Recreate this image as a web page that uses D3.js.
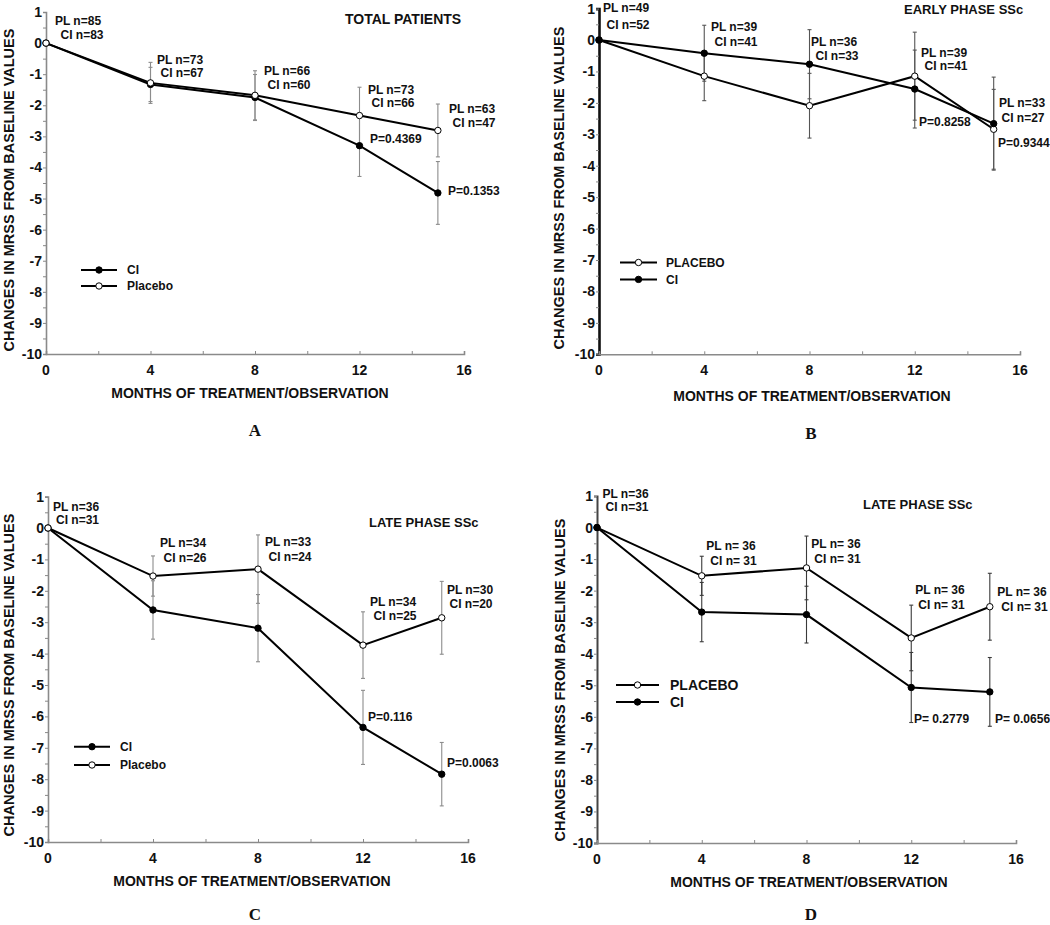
<!DOCTYPE html>
<html>
<head>
<meta charset="utf-8">
<script src="https://cdn.jsdelivr.net/npm/d3@7/dist/d3.min.js"></script>
<style>
  html, body { margin: 0; padding: 0; background: #fff; }
  svg { display: block; }
  text { font-family: "Liberation Sans", Arial, sans-serif; font-weight: bold; fill: #111; }
</style>
</head>
<body>
<svg id="chart" width="1050" height="925"></svg>
<script>
// ---------------- DATA ----------------
const months = [0, 4, 8, 12, 15];
const xTicks = [0, 4, 8, 12, 16];
const yTicks = [1, 0, -1, -2, -3, -4, -5, -6, -7, -8, -9, -10];

// Panel A – total patients
const aPlacebo    = [0, -1.28, -1.68, -2.33, -2.81];
const aPlaceboErr = [0, 0.66, 0.79, 0.91, 0.85];
const aCI         = [0, -1.33, -1.75, -3.30, -4.82];
const aCIErr      = [0, 0.55, 0.74, 0.99, 1.01];

// Panel B – early phase SSc
const bPlacebo    = [0, -1.15, -2.09, -1.15, -2.84];
const bPlaceboErr = [0, 0.78, 1.03, 1.40, 1.27];
const bCI         = [0, -0.42, -0.77, -1.56, -2.66];
const bCIErr      = [0, 0.89, 1.10, 1.24, 1.48];

// Panel C – late phase SSc
const cPlacebo    = [0, -1.53, -1.31, -3.73, -2.86];
const cPlaceboErr = [0, 0.64, 1.09, 1.06, 1.16];
const cCI         = [0, -2.61, -3.19, -6.35, -7.84];
const cCIErr      = [0, 0.93, 1.07, 1.18, 1.01];

// Panel D – late phase SSc (n constant)
const dPlacebo    = [0, -1.53, -1.28, -3.50, -2.51];
const dPlaceboErr = [0, 0.62, 1.01, 1.04, 1.06];
const dCI         = [0, -2.68, -2.76, -5.07, -5.21];
const dCIErr      = [0, 0.94, 0.90, 1.11, 1.09];

// Text
const yTitle = "CHANGES IN MRSS FROM BASELINE VALUES";
const xTitle = "MONTHS OF TREATMENT/OBSERVATION";
const aNLabels = [["PL n=85", "CI n=83"], ["PL n=73", "CI n=67"], ["PL n=66", "CI n=60"], ["PL n=73", "CI n=66"], ["PL n=63", "CI n=47"]];
const bNLabels = [["PL n=49", "CI n=52"], ["PL n=39", "CI n=41"], ["PL n=36", "CI n=33"], ["PL n=39", "CI n=41"], ["PL n=33", "CI n=27"]];
const cNLabels = [["PL n=36", "CI n=31"], ["PL n=34", "CI n=26"], ["PL n=33", "CI n=24"], ["PL n=34", "CI n=25"], ["PL n=30", "CI n=20"]];
const dNLabels = [["PL n=36", "CI n=31"], ["PL n= 36", "CI n= 31"], ["PL n= 36", "CI n= 31"], ["PL n= 36", "CI n= 31"], ["PL n= 36", "CI n= 31"]];
const aPLabels = ["P=0.4369", "P=0.1353"];
const bPLabels = ["P=0.8258", "P=0.9344"];
const cPLabels = ["P=0.116", "P=0.0063"];
const dPLabels = ["P= 0.2779", "P= 0.0656"];

// ---------------- LAYOUT ----------------
const panels = [
  {
    letter: "A", title: "TOTAL PATIENTS",
    left: 46, right: 464, top: 12, bottom: 354,
    yAxisColor: "#8a8a8a", yAxisWidth: 1.6, errColor: "#8c8c8c",
    series: [
      { name: "CI", values: aCI, err: aCIErr, filled: true },
      { name: "Placebo", values: aPlacebo, err: aPlaceboErr, filled: false }
    ],
    nLabels: aNLabels,
    nPos: [[78, 25, 82, 39], [180, 64, 182, 77], [287, 75, 289, 89], [391, 94, 393, 107], [472, 113, 474, 127]],
    pLabels: aPLabels, pPos: [[370, 143], [448, 195]],
    titlePos: [345, 24, 14],
    legend: { x1: 81, x2: 117, ys: [270, 286], tx: 127, size: 12 },
    yTitlePos: [14, 190], xTitlePos: [250, 398], letterPos: [255, 436]
  },
  {
    letter: "B", title: "EARLY PHASE SSc",
    left: 599, right: 1020, top: 8.6, bottom: 354.3,
    yAxisColor: "#111", yAxisWidth: 2.6, errColor: "#555",
    series: [
      { name: "PLACEBO", values: bPlacebo, err: bPlaceboErr, filled: false },
      { name: "CI", values: bCI, err: bCIErr, filled: true }
    ],
    nLabels: bNLabels,
    nPos: [[626, 11.5, 628, 29], [734, 31, 736, 46], [834, 46, 837, 60], [944, 56.5, 946, 70], [1022, 107, 1023, 122]],
    pLabels: bPLabels, pPos: [[919, 126], [998, 147]],
    titlePos: [904, 14, 13],
    legend: { x1: 620, x2: 657, ys: [262.5, 279.4], tx: 666, size: 12 },
    yTitlePos: [564, 188], xTitlePos: [812, 401], letterPos: [811, 439]
  },
  {
    letter: "C", title: "LATE PHASE SSc",
    left: 48, right: 468, top: 496.6, bottom: 842,
    yAxisColor: "#8a8a8a", yAxisWidth: 1.6, errColor: "#8c8c8c",
    series: [
      { name: "CI", values: cCI, err: cCIErr, filled: true },
      { name: "Placebo", values: cPlacebo, err: cPlaceboErr, filled: false }
    ],
    nLabels: cNLabels,
    nPos: [[76, 511, 77.5, 524], [183, 547, 185, 561.5], [288, 546, 290, 560.5], [393, 606, 395, 620], [470, 594, 471, 607.5]],
    pLabels: cPLabels, pPos: [[368, 720.5], [447, 767]],
    titlePos: [369, 527, 13],
    legend: { x1: 74, x2: 110, ys: [746.7, 765], tx: 120, size: 12 },
    yTitlePos: [14, 675], xTitlePos: [252, 885.5], letterPos: [255, 920]
  },
  {
    letter: "D", title: "LATE PHASE SSc",
    left: 597, right: 1016, top: 496, bottom: 843,
    yAxisColor: "#444", yAxisWidth: 2.0, errColor: "#3a3a3a",
    series: [
      { name: "PLACEBO", values: dPlacebo, err: dPlaceboErr, filled: false },
      { name: "CI", values: dCI, err: dCIErr, filled: true }
    ],
    nLabels: dNLabels,
    nPos: [[625.5, 498, 627, 511], [731, 550, 733.5, 565], [836, 548, 837.5, 563], [940, 594, 941.5, 609], [1022, 596, 1024.5, 611]],
    pLabels: dPLabels, pPos: [[914, 723], [995, 723]],
    titlePos: [863, 509, 13],
    legend: { x1: 616, x2: 659, ys: [685, 702], tx: 670, size: 14 },
    yTitlePos: [565, 680], xTitlePos: [809, 887], letterPos: [811, 920]
  }
];

// ---------------- DRAW ----------------
const svg = d3.select("#chart");
svg.append("rect").attr("width", 1050).attr("height", 925).attr("fill", "#fff");

function drawPanel(p) {
  const g = svg.append("g");
  const x = d3.scaleLinear().domain([0, 16]).range([p.left, p.right]);
  const y = d3.scaleLinear().domain([1, -10]).range([p.top, p.bottom]);

  // Y axis
  const yAxis = d3.axisLeft(y).tickValues(d3.range(-10, 1.01, 0.5)).tickSize(3).tickFormat("");
  const ya = g.append("g").attr("transform", `translate(${p.left},0)`).call(yAxis);
  ya.select(".domain").attr("stroke", p.yAxisColor).attr("stroke-width", p.yAxisWidth);
  ya.selectAll(".tick line").attr("stroke", "#888").attr("stroke-width", 1);
  g.selectAll(".ytl").data(yTicks).enter().append("text")
    .attr("x", p.left - 4).attr("y", d => y(d)).attr("dy", "0.36em")
    .attr("text-anchor", "end").attr("font-size", 14).text(d => d);

  // X axis
  const xAxis = d3.axisTop(x).tickValues(d3.range(0, 16.01, 2)).tickSize(3).tickFormat("");
  const xa = g.append("g").attr("transform", `translate(0,${p.bottom})`).call(xAxis);
  xa.select(".domain").attr("stroke", "#8a8a8a").attr("stroke-width", 1.6);
  xa.selectAll(".tick line").attr("stroke", "#888").attr("stroke-width", 1);
  g.selectAll(".xtl").data(xTicks).enter().append("text")
    .attr("x", d => x(d)).attr("y", p.bottom + 21)
    .attr("text-anchor", "middle").attr("font-size", 14).text(d => d);

  // error bars
  p.series.forEach(s => {
    const pts = months.map((m, i) => ({ m, v: s.values[i], e: s.err[i] })).filter(d => d.e > 0);
    const eg = g.append("g").attr("stroke", p.errColor).attr("stroke-width", 1.1);
    eg.selectAll("line.v").data(pts).enter().append("line")
      .attr("x1", d => x(d.m)).attr("x2", d => x(d.m))
      .attr("y1", d => y(d.v + d.e)).attr("y2", d => y(d.v - d.e));
    eg.selectAll("line.t").data(pts).enter().append("line")
      .attr("x1", d => x(d.m) - 2).attr("x2", d => x(d.m) + 2)
      .attr("y1", d => y(d.v + d.e)).attr("y2", d => y(d.v + d.e));
    eg.selectAll("line.b").data(pts).enter().append("line")
      .attr("x1", d => x(d.m) - 2).attr("x2", d => x(d.m) + 2)
      .attr("y1", d => y(d.v - d.e)).attr("y2", d => y(d.v - d.e));
  });

  // lines
  const line = d3.line().x((d, i) => x(months[i])).y(d => y(d));
  p.series.forEach(s => {
    g.append("path").datum(s.values).attr("d", line)
      .attr("fill", "none").attr("stroke", "#000").attr("stroke-width", 2);
  });
  // markers
  p.series.forEach(s => {
    g.selectAll(null).data(s.values).enter().append("circle")
      .attr("cx", (d, i) => x(months[i])).attr("cy", d => y(d)).attr("r", 3.2)
      .attr("fill", s.filled ? "#000" : "#fff").attr("stroke", "#000").attr("stroke-width", 1);
  });

  // n labels
  p.nLabels.forEach((pair, i) => {
    const pos = p.nPos[i];
    g.append("text").attr("x", pos[0]).attr("y", pos[1]).attr("text-anchor", "middle").attr("font-size", 12).text(pair[0]);
    g.append("text").attr("x", pos[2]).attr("y", pos[3]).attr("text-anchor", "middle").attr("font-size", 12).text(pair[1]);
  });
  // p labels
  p.pLabels.forEach((t, i) => {
    g.append("text").attr("x", p.pPos[i][0]).attr("y", p.pPos[i][1]).attr("font-size", 12).text(t);
  });
  // title
  g.append("text").attr("x", p.titlePos[0]).attr("y", p.titlePos[1]).attr("font-size", p.titlePos[2]).text(p.title);

  // legend
  p.series.forEach((s, i) => {
    const ly = p.legend.ys[i];
    g.append("line").attr("x1", p.legend.x1).attr("x2", p.legend.x2).attr("y1", ly).attr("y2", ly)
      .attr("stroke", "#000").attr("stroke-width", 2);
    g.append("circle").attr("cx", (p.legend.x1 + p.legend.x2) / 2).attr("cy", ly).attr("r", 3.2)
      .attr("fill", s.filled ? "#000" : "#fff").attr("stroke", "#000").attr("stroke-width", 1);
    g.append("text").attr("x", p.legend.tx).attr("y", ly).attr("dy", "0.36em")
      .attr("font-size", p.legend.size).text(s.name);
  });

  // axis titles
  g.append("text").attr("transform", `translate(${p.yTitlePos[0]},${p.yTitlePos[1]}) rotate(-90)`)
    .attr("text-anchor", "middle").attr("font-size", 14.5).text(yTitle);
  g.append("text").attr("x", p.xTitlePos[0]).attr("y", p.xTitlePos[1])
    .attr("text-anchor", "middle").attr("font-size", 14).text(xTitle);
  // panel letter
  g.append("text").attr("x", p.letterPos[0]).attr("y", p.letterPos[1])
    .attr("text-anchor", "middle").attr("font-size", 17)
    .style("font-family", "'Liberation Serif', 'Times New Roman', serif").text(p.letter);
}

panels.forEach(drawPanel);
</script>
</body>
</html>
